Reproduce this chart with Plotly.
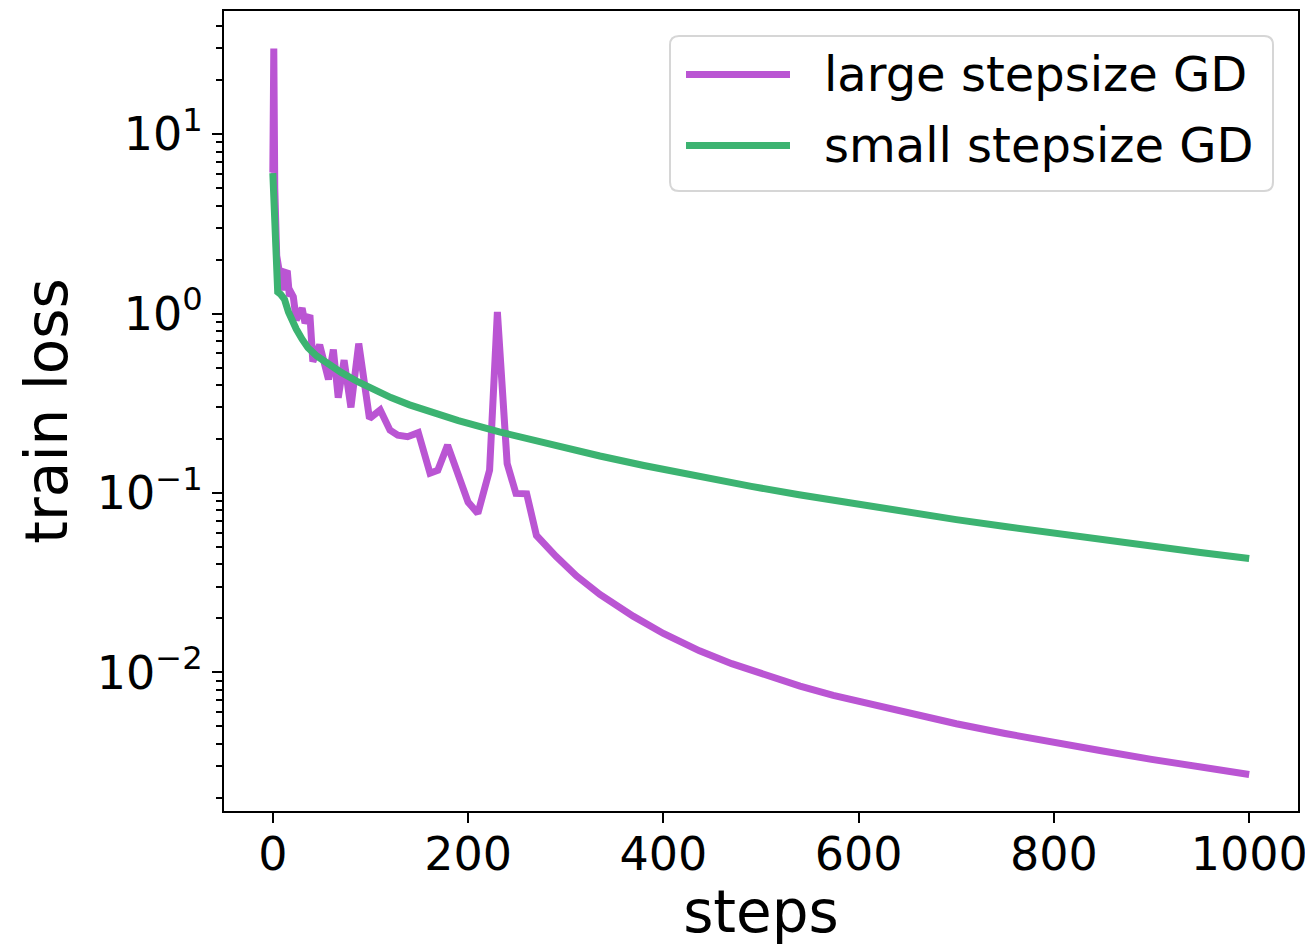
import plotly.graph_objects as go

# ---------------- data ----------------
large_steps = [0, 1, 2, 3, 4, 6, 8, 10, 12, 15, 17, 19, 21, 24, 30, 33, 38, 41,
               48, 57, 62, 67, 73, 80, 88, 99, 110, 120, 128, 138, 149, 161, 169,
               179, 200, 210, 222, 230, 240, 249, 260, 270, 290, 311, 335, 369,
               400, 437, 470, 505, 540, 574, 600, 650, 700, 750, 800, 850, 900,
               950, 1000]
large_loss = [6.1, 30.0, 5.0, 2.6, 2.1, 1.8, 1.45, 1.35, 1.7, 1.68, 1.25, 1.3,
              1.24, 0.92, 1.07, 0.886, 0.98, 0.54, 0.67, 0.43, 0.63, 0.34, 0.55,
              0.30, 0.68, 0.26, 0.29, 0.224, 0.21, 0.206, 0.217, 0.129, 0.134,
              0.185, 0.089, 0.077, 0.134, 1.02, 0.146, 0.0995, 0.099, 0.058,
              0.0444, 0.0345, 0.0272, 0.0206, 0.0165, 0.0132, 0.0112, 0.0096,
              0.0084, 0.00746, 0.00689, 0.00593, 0.00518, 0.00457, 0.00406,
              0.00365, 0.00328, 0.00297, 0.0027]

small_steps = [0, 1, 2, 3, 4, 5, 8, 12, 16, 19, 24, 30, 36, 45, 53, 70, 87, 105,
               121, 140, 156, 190, 232, 280, 335, 380, 437, 490, 539, 590, 642,
               700, 750, 800, 850, 900, 950, 1000]
small_loss = [6.06, 4.0, 2.8, 2.2, 1.83, 1.32, 1.28, 1.2, 1.02, 0.93, 0.82, 0.72,
              0.645, 0.58, 0.54, 0.47, 0.417, 0.371, 0.340, 0.310, 0.289, 0.253,
              0.219, 0.1885, 0.1608, 0.1424, 0.1233, 0.1089, 0.0977, 0.0879,
              0.0793, 0.0711, 0.0650, 0.0596, 0.0548, 0.0505, 0.0466, 0.0432]

series_names = ["large stepsize GD", "small stepsize GD"]
series_colors = ["#BA55D3", "#3CB371"]

x_ticks = [0, 200, 400, 600, 800, 1000]
y_ticks = [0.01, 0.1, 1, 10]
y_ticktext = ["10<sup>\u22122</sup>", "10<sup>\u22121</sup>", "10<sup>0</sup>", "10<sup>1</sup>"]

FONT = "DejaVu Sans"
OFF = 8                      # default page body margin of the written html
W, H = 1313 - OFF, 946 - OFF
L, R, T, B = 224 - OFF, 15, 11 - OFF, 135

fig = go.Figure()
fig.add_trace(go.Scatter(x=large_steps, y=large_loss, mode="lines",
                         name=series_names[0], showlegend=False,
                         line=dict(color=series_colors[0], width=7)))
fig.add_trace(go.Scatter(x=small_steps, y=small_loss, mode="lines",
                         name=series_names[1], showlegend=False,
                         line=dict(color=series_colors[1], width=7)))

# minor ticks on log axis (positions only)
minor_vals = []
for e in range(-3, 2):
    for m in range(2, 10):
        minor_vals.append(m * 10 ** e)

fig.update_xaxes(range=[-50, 1050], tickvals=x_ticks, ticks="outside", ticklen=10,
                 tickwidth=2, tickcolor="black", showline=True, linewidth=2,
                 linecolor="black", mirror=True, showgrid=False, zeroline=False,
                 ticklabelstandoff=-8,
                 tickfont=dict(family=FONT, size=46, color="black"),
                 title=dict(text="steps", font=dict(family=FONT, size=58, color="black"),
                            standoff=14))
fig.update_yaxes(type="log", range=[-2.772, 1.686], tickvals=y_ticks, ticktext=y_ticktext,
                 ticks="outside", ticklen=10, tickwidth=2, tickcolor="black",
                 showline=True, linewidth=2, linecolor="black", mirror=True,
                 showgrid=False, zeroline=False,
                 tickfont=dict(family=FONT, size=46, color="black"),
                 minor=dict(tickvals=minor_vals, ticks="outside", ticklen=6,
                            tickwidth=1.5, tickcolor="black", showgrid=False),
                 title=dict(text="train loss", font=dict(family=FONT, size=58, color="black"),
                            standoff=10))

# ---------------- legend drawn by hand (matplotlib style) ----------------
pw, ph = W - L - R, H - T - B


def xp(px):
    return (px - OFF - L) / pw


def yp(py):
    return (H - B - (py - OFF)) / ph


x0, x1, y0, y1, r = 670, 1273, 36, 191, 9
rx, ry = r / pw, r / ph
path = (f"M {xp(x0) + rx},{yp(y0)} L {xp(x1) - rx},{yp(y0)} "
        f"Q {xp(x1)},{yp(y0)} {xp(x1)},{yp(y0) - ry} "
        f"L {xp(x1)},{yp(y1) + ry} Q {xp(x1)},{yp(y1)} {xp(x1) - rx},{yp(y1)} "
        f"L {xp(x0) + rx},{yp(y1)} Q {xp(x0)},{yp(y1)} {xp(x0)},{yp(y1) + ry} "
        f"L {xp(x0)},{yp(y0) - ry} Q {xp(x0)},{yp(y0)} {xp(x0) + rx},{yp(y0)} Z")
fig.add_shape(type="path", path=path, xref="paper", yref="paper",
              fillcolor="rgba(255,255,255,0.8)", line=dict(color="#d6d6d6", width=2),
              layer="above")

rows_y = [74.5, 145.5]
for name, color, ry_px in zip(series_names, series_colors, rows_y):
    fig.add_shape(type="line", xref="paper", yref="paper",
                  x0=xp(686), x1=xp(790), y0=yp(ry_px), y1=yp(ry_px),
                  line=dict(color=color, width=7), layer="above")
    fig.add_annotation(x=xp(822), y=yp(ry_px), xref="paper", yref="paper",
                       text=name, showarrow=False, xanchor="left", yanchor="middle",
                       font=dict(family=FONT, size=48, color="black"))

fig.update_layout(width=W, height=H, margin=dict(l=L, r=R, t=T, b=B, autoexpand=False),
                  paper_bgcolor="white", plot_bgcolor="white",
                  font=dict(family=FONT, color="black"))

fig.write_html("out.html")
